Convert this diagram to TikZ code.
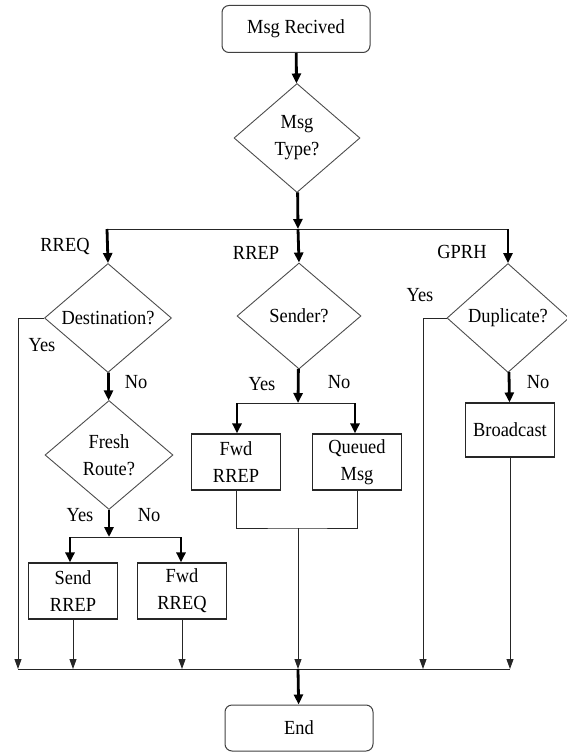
\documentclass[tikz,border=0pt]{standalone}
\usepackage{fontspec}
\setmainfont{Liberation Serif}[FakeStretch=0.92]
\usetikzlibrary{shapes.geometric,arrows.meta}

\begin{document}
\begin{tikzpicture}[x=1pt,y=-1pt,
  font=\fontsize{20}{27}\selectfont,
  decision/.style={diamond, draw=black!70, line width=0.9pt, inner sep=0pt,
    minimum width=126pt, minimum height=109pt, align=center},
  process/.style={rectangle, draw=black!85, line width=1.1pt, inner sep=0pt,
    minimum width=89pt, minimum height=56pt, align=center},
  terminal/.style={rectangle, rounded corners=7pt, draw=black!75, line width=1pt,
    minimum width=148pt, minimum height=47pt, inner sep=0pt},
  flow/.style={line width=2.8pt, -{Triangle[length=10pt,width=9pt]}},
  joinline/.style={line width=0.9pt, draw=black!85},
  collect/.style={line width=0.9pt, draw=black!85, -{Triangle[length=10pt,width=7pt]}},
  lbl/.style={inner sep=0pt}]

\useasboundingbox (0,0) rectangle (566,752);

% nodes
\node[terminal] (start) at (296,29) {Msg Recived};
\node[decision] (type) at (297,138) {Msg\\Type?};
\node[decision, minimum width=127pt] (dest) at (108,318) {Destination?};
\node[decision, minimum width=124pt, minimum height=106pt] (sender) at (299,316) {Sender?};
\node[decision, minimum width=122pt] (dup) at (508,318) {Duplicate?};
\node[decision, minimum width=128pt] (fresh) at (109,455) {Fresh\\Route?};
\node[process] (sendrrep) at (73,591) {Send\\RREP};
\node[process] (fwdrreq) at (182,591) {Fwd\\RREQ};
\node[process] (fwdrrep) at (236,462) {Fwd\\RREP};
\node[process] (queued) at (357,462) {Queued\\Msg};
\node[process, minimum height=54pt] (broadcast) at (510,430) {Broadcast};
\node[terminal, minimum height=46pt] (end) at (299,728) {End};

% labels
\node[lbl] (lrreq) at (65,246) {RREQ};
\node[lbl] (lrrep) at (256,253) {RREP};
\node[lbl] (lgprh) at (462,252) {GPRH};
\node[lbl] (ldyes) at (42,345) {Yes};
\node[lbl] (ldno) at (136,382) {No};
\node[lbl] (lsyes) at (262,384) {Yes};
\node[lbl] (lsno) at (339,382) {No};
\node[lbl] (lpyes) at (420,295) {Yes};
\node[lbl] (lpno) at (538,382) {No};
\node[lbl] (lfyes) at (80,515) {Yes};
\node[lbl] (lfno) at (149,515) {No};

% junction points
\coordinate (topL) at (107,229);
\coordinate (topM) at (298,229);
\coordinate (topR) at (508,229);
\coordinate (sspl) at (298,403);
\coordinate (sspL) at (237,403);
\coordinate (sspR) at (355,403);
\coordinate (fspl) at (109,537);
\coordinate (fspL) at (70,537);
\coordinate (fspR) at (181,537);
\coordinate (mrg) at (298,528);
\coordinate (botL) at (18,669);
\coordinate (botY) at (423,669);
\coordinate (botM) at (298,669);
\coordinate (botR) at (510,669);

% main flow
\draw[flow] (start) -- (type);
\draw[flow] (type) -- (topM);
\draw[joinline] (topL) -- (topR);
\draw[flow] (topL) -- (dest.north);
\draw[flow] (topM) -- (sender.north);
\draw[flow] (topR) -- (dup.north);

% RREQ branch
\draw[flow] (dest) -- (fresh);
\draw[flow] (fresh) -- (fspl);
\draw[joinline] (fspL) -- (fspR);
\draw[flow] (fspL) -- (fspL |- sendrrep.north);
\draw[flow] (fspR) -- (fspR |- fwdrreq.north);

% RREP branch
\draw[flow] (sender) -- (sspl);
\draw[joinline] (sspL) -- (sspR);
\draw[flow] (sspL) -- (sspL |- fwdrrep.north);
\draw[flow] (sspR) -- (sspR |- queued.north);
\draw[joinline] (fwdrrep.south) |- (mrg) -| (queued.south);

% GPRH branch
\draw[flow] (dup) -- (broadcast);

% collecting bus
\draw[joinline] (botL) -- (botR);
\draw[collect] (dest.west) -| (botL);
\draw[collect] (dup.west) -| (botY);
\draw[collect] (sendrrep.south) -- (sendrrep.south |- botM);
\draw[collect] (fwdrreq.south) -- (fwdrreq.south |- botM);
\draw[collect] (mrg) -- (botM);
\draw[collect] (broadcast.south) -- (botR);
\draw[flow] (botM) -- (end);

\end{tikzpicture}
\end{document}
